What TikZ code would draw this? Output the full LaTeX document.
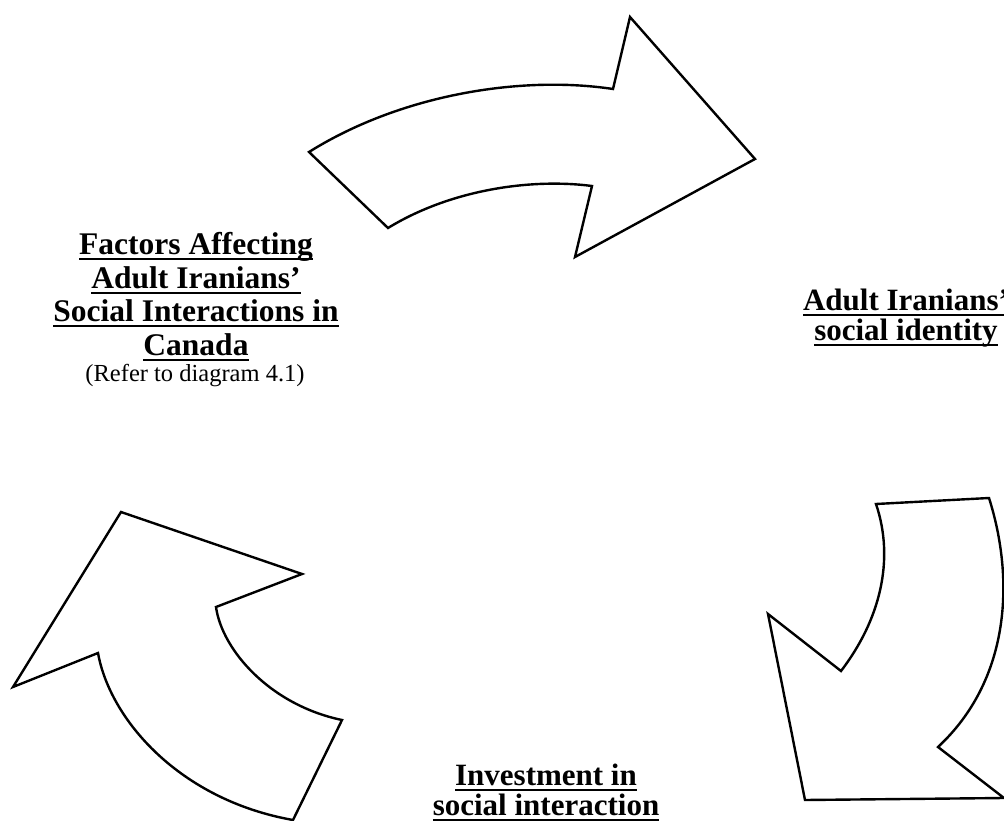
\documentclass[tikz,border=0pt]{standalone}
\usepackage{fontspec}
\setmainfont{Liberation Serif}
\newcommand\myul[1]{\setbox0\hbox{#1}\rlap{\rule[-5.5pt]{\wd0}{1.8pt}}\box0}
\tikzset{
  bigarrow/.style={draw=black, line width=2.4pt, line join=miter, fill=white},
  heading/.style={font=\bfseries\fontsize{31.5}{33.5}\selectfont, align=center, inner sep=0pt, anchor=base},
  headingtight/.style={heading, font=\bfseries\fontsize{31}{30}\selectfont},
  note/.style={font=\fontsize{24.5}{26}\selectfont, inner sep=0pt, anchor=base}
}
\begin{document}
\begin{tikzpicture}[x=1pt,y=-1pt]
\useasboundingbox (0,0) rectangle (1004,821);
% top arrow
\draw[bigarrow] (309,152) .. controls (400,95) and (520,75) .. (613,89)
  -- (630,17) -- (755,159) -- (575,257) -- (592,186)
  .. controls (530,178) and (450,190) .. (388,228) -- cycle;
% right arrow
\draw[bigarrow] (876,504) -- (989,498) .. controls (1015,580) and (1010,680) .. (938,747)
  -- (1004,798) -- (805,800) -- (768,614) -- (841,671)
  .. controls (880,620) and (895,560) .. (876,504) -- cycle;
% left arrow
\draw[bigarrow] (121,512) -- (302,574) -- (216,607)
  .. controls (222,650) and (270,705) .. (342,720)
  -- (293,820) .. controls (180,800) and (110,720) .. (98,653)
  -- (13,687) -- cycle;
% labels
\node[heading] (factors) at (196,355) {\myul{Factors Affecting}\\\myul{Adult Iranians'}\\\myul{Social Interactions in}\\\myul{Canada}};
\node[note] (refer) at (195,381) {(Refer to diagram 4.1)};
\node[headingtight] (identity) at (906,340) {\myul{Adult Iranians'}\\\myul{social identity}};
\node[headingtight] (investment) at (546,815) {\myul{Investment in}\\\myul{social interaction}};
\end{tikzpicture}
\end{document}
